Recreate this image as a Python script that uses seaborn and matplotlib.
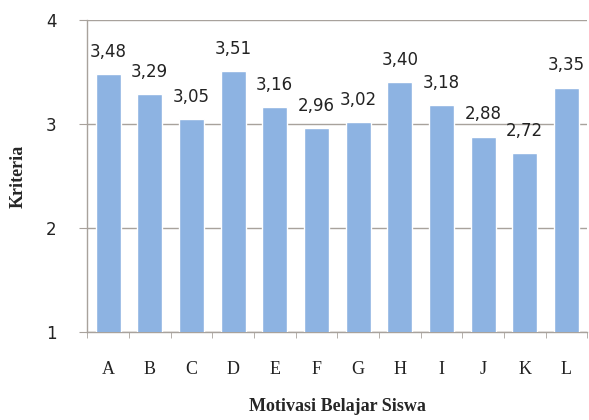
import matplotlib
matplotlib.use("Agg")
import matplotlib.pyplot as plt
import seaborn as sns
import pandas as pd

categories = ["A", "B", "C", "D", "E", "F", "G", "H", "I", "J", "K", "L"]
values = [3.48, 3.29, 3.05, 3.51, 3.16, 2.96, 3.02, 3.40, 3.18, 2.88, 2.72, 3.35]
y_ticks = [1, 2, 3, 4]

df = pd.DataFrame({"kategori": categories, "nilai": values})

sns.set_style("white")
fig = plt.figure(figsize=(5.89, 4.2), dpi=100)
ax = fig.add_axes([0.148, 0.21, 0.849, 0.742])

sns.barplot(data=df, x="kategori", y="nilai", color="#8DB3E2", saturation=1,
            width=0.6, ax=ax, zorder=3)

ax.set_ylim(1, 4)
ax.set_xlim(-0.5, len(categories) - 0.5)
ax.set_yticks(y_ticks)
ax.set_yticklabels([str(t) for t in y_ticks], fontsize=12, family="DejaVu Sans",
                   color="#222222")

grid_color = "#A8A29C"
ax.yaxis.grid(True, color=grid_color, linewidth=1.0, zorder=0)
ax.xaxis.grid(False)

for s in ["top", "right"]:
    ax.spines[s].set_visible(False)
for s in ["left", "bottom"]:
    ax.spines[s].set_color(grid_color)
    ax.spines[s].set_linewidth(1.0)

# category labels centred, tick marks at category boundaries
ax.set_xticks(range(len(categories)))
ax.set_xticklabels(categories, fontsize=13, family="Liberation Serif", color="#222222")
ax.tick_params(axis="x", which="major", length=0, pad=21)
ax.set_xticks([i - 0.5 for i in range(len(categories) + 1)], minor=True)
ax.tick_params(axis="x", which="minor", length=4, color=grid_color, direction="out")
ax.tick_params(axis="y", length=6, color=grid_color, direction="out", pad=16)
ax.tick_params(left=True, bottom=True, which="both")

for i, v in enumerate(values):
    ax.annotate(f"{v:.2f}".replace(".", ","), (i, v), xytext=(0, 16),
                textcoords="offset points", ha="center", va="center",
                fontsize=12, family="DejaVu Sans", color="#222222",
                annotation_clip=False)

ax.set_xlabel("Motivasi Belajar Siswa", fontsize=13, fontweight="bold",
              family="Liberation Serif", va="center")
ax.xaxis.set_label_coords(0.5, -0.24)
ax.set_ylabel("Kriteria", fontsize=13, fontweight="bold",
              family="Liberation Serif", va="center")
ax.yaxis.set_label_coords(-0.138, 0.5)

fig.savefig("out.png", dpi=100)
